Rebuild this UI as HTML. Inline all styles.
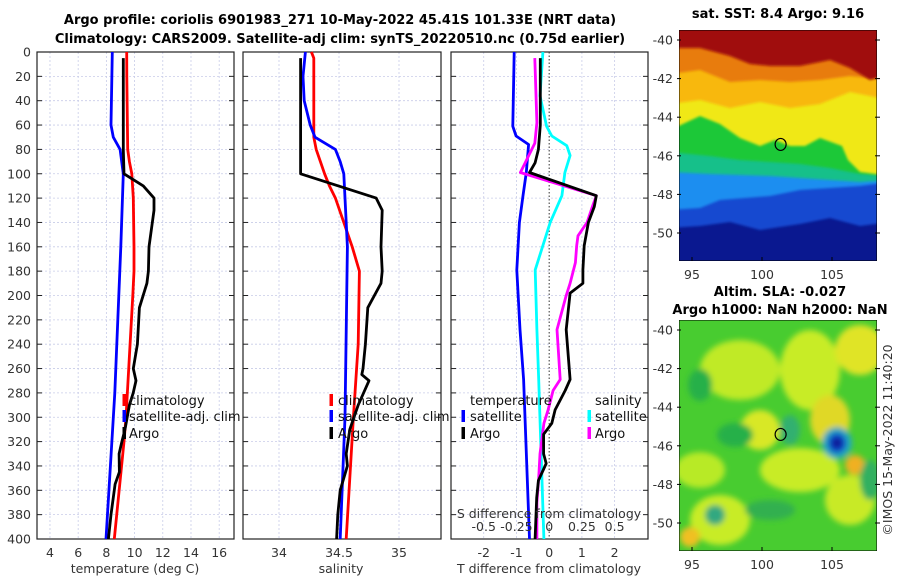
<!DOCTYPE html>
<html><head><meta charset="utf-8">
<style>
html,body{margin:0;padding:0;background:#fff;}
svg{display:block;font-family:"DejaVu Sans","Liberation Sans",sans-serif;}
.tl{font-size:12.5px;fill:#333;}
.tt{font-size:13px;font-weight:bold;fill:#000;}
.lg{font-size:13px;fill:#111;}
</style></head>
<body>
<svg id="fig" width="900" height="580" viewBox="0 0 900 580">
<defs>
<filter id="blur3"><feGaussianBlur stdDeviation="3"/></filter>
<filter id="blur1"><feGaussianBlur stdDeviation="1.2"/></filter>
<clipPath id="cm1"><rect x="679" y="30" width="198" height="231"/></clipPath>
<clipPath id="cm2"><rect x="679" y="320" width="198" height="231"/></clipPath>
</defs>
<text class="tt" x="340" y="24" text-anchor="middle">Argo profile: coriolis 6901983_271 10-May-2022 45.41S 101.33E (NRT data)</text>
<text class="tt" x="340" y="43" text-anchor="middle">Climatology: CARS2009. Satellite-adj clim: synTS_20220510.nc (0.75d earlier)</text>

<!-- SST map -->
<g clip-path="url(#cm1)">
<rect x="679" y="30" width="198" height="231" fill="#0a1890"/>
<path fill="#1548d0" filter="url(#blur1)" d="M670,20 H890 V222 L860,226 L830,218 L800,224 L760,230 L730,222 L700,226 L670,228 Z"/>
<path fill="#1e8ef0" filter="url(#blur1)" d="M670,20 H890 V182 L860,186 L830,188 L800,190 L770,196 L745,198 L720,200 L700,208 L670,210 Z"/>
<path fill="#14c08a" filter="url(#blur1)" d="M670,20 H890 V180 L860,182 L830,180 L800,178 L770,176 L740,175 L710,174 L670,172 Z"/>
<path fill="#1cc838" filter="url(#blur1)" d="M670,20 H890 V176 L860,174 L830,168 L800,164 L770,162 L740,160 L710,156 L670,152 Z"/>
<path fill="#f0e818" filter="url(#blur1)" d="M670,20 H890 V176 L860,172 L848,160 L842,146 L820,138 L805,146 L790,146 L775,140 L760,146 L740,138 L720,124 L700,116 L670,130 Z"/>
<path fill="#f8b810" filter="url(#blur1)" d="M670,20 H890 V100 L850,92 L820,104 L790,108 L760,102 L730,108 L700,100 L670,104 Z"/>
<path fill="#e87c10" filter="url(#blur1)" d="M670,20 H890 V80 L850,76 L820,80 L790,82 L760,80 L730,82 L700,70 L670,74 Z"/>
<path fill="#a00808" filter="url(#blur1)" d="M670,20 H890 V74 L870,80 L850,68 L830,60 L800,66 L770,66 L750,64 L730,56 L700,48 L670,48 Z"/>
<rect x="679" y="30" width="198" height="231" fill="none" stroke="#000" stroke-width="1"/>
</g>
<g id="map1axes"></g>
<text class="tt" x="778" y="18" text-anchor="middle">sat. SST: 8.4 Argo: 9.16</text>

<!-- SLA map -->
<g clip-path="url(#cm2)">
<rect x="679" y="320" width="198" height="231" fill="#48cc30"/>
<g filter="url(#blur3)">
<ellipse cx="740" cy="370" rx="40" ry="30" fill="#c0ea28"/>
<ellipse cx="810" cy="370" rx="30" ry="40" fill="#c8ec28"/>
<ellipse cx="860" cy="350" rx="25" ry="25" fill="#e0e428"/>
<ellipse cx="800" cy="470" rx="40" ry="22" fill="#c8ec28"/>
<ellipse cx="720" cy="520" rx="30" ry="25" fill="#c8ec28"/>
<ellipse cx="850" cy="500" rx="25" ry="25" fill="#c8ea28"/>
<ellipse cx="700" cy="470" rx="25" ry="18" fill="#b8ea28"/>
<ellipse cx="760" cy="430" rx="20" ry="20" fill="#d8e828"/>
<ellipse cx="855" cy="465" rx="10" ry="10" fill="#f0b020"/>
<ellipse cx="690" cy="537" rx="10" ry="10" fill="#f0c020"/>
<ellipse cx="830" cy="420" rx="20" ry="25" fill="#e0d828"/>
<ellipse cx="700" cy="385" rx="12" ry="16" fill="#28b048"/>
<ellipse cx="735" cy="435" rx="18" ry="12" fill="#28b048"/>
<ellipse cx="790" cy="430" rx="10" ry="15" fill="#30b070"/>
<ellipse cx="715" cy="515" rx="10" ry="10" fill="#30a880"/>
<ellipse cx="770" cy="510" rx="25" ry="10" fill="#30b050"/>
<ellipse cx="870" cy="480" rx="10" ry="20" fill="#30b060"/>
<ellipse cx="837" cy="443" rx="15" ry="16" fill="#20a8c0"/>
<ellipse cx="837" cy="443" rx="9" ry="10" fill="#1040c8"/>
<ellipse cx="837" cy="443" rx="5" ry="5" fill="#0a1890"/>
</g>
<rect x="679" y="320" width="198" height="231" fill="none" stroke="#000" stroke-width="1"/>
</g>
<g id="map2axes"></g>
<text class="tt" x="780" y="296" text-anchor="middle">Altim. SLA: -0.027</text>
<text class="tt" x="780" y="314" text-anchor="middle">Argo h1000: NaN h2000: NaN</text>
<text class="tl" transform="translate(892,440) rotate(-90)" text-anchor="middle">©IMOS 15-May-2022 11:40:20</text>

<g id="panels"></g>
</svg>
<script>
// ---- data ----
const depthTicks=[0,20,40,60,80,100,120,140,160,180,200,220,240,260,280,300,320,340,360,380,400];
const tTicks=[4,6,8,10,12,14,16];
const sTicks=[34,34.5,35];
const sTickLabels=["34","34.5","35"];
const dtTicks=[-2,-1,0,1,2];
const dsTicks=[-0.5,-0.25,0,0.25,0.5];
const dsTickLabels=["-0.5","-0.25","0","0.25","0.5"];
const lonTicks=[95,100,105];
const latTicks=[-40,-42,-44,-46,-48,-50];

const tClimDepth=[0,20,80,90,100,120,160,180,200,300,320,400];
const tClimVal=[9.44,9.45,9.51,9.63,9.8,9.91,9.96,9.96,9.87,9.39,9.25,8.56];
const tSatDepth=[0,60,70,80,100,160,280,400];
const tSatVal=[8.42,8.33,8.49,8.97,9.2,9.02,8.6,7.97];
const tArgoDepth=[5,80,100,110,120,130,160,180,190,210,240,260,270,280,290,310,320,330,345,355,380,400];
const tArgoVal=[9.2,9.2,9.25,10.62,11.38,11.38,11.02,10.98,10.87,10.34,10.2,9.91,10.1,9.9,9.63,9.32,9.1,8.9,8.92,8.62,8.33,8.14];

const sClimDepth=[0,5,70,80,100,110,120,140,160,180,240,300,400];
const sClimVal=[34.27,34.29,34.29,34.31,34.38,34.42,34.47,34.54,34.61,34.67,34.66,34.62,34.56];
const sSatDepth=[0,20,40,60,70,80,90,100,140,160,300,400];
const sSatVal=[34.22,34.2,34.21,34.26,34.3,34.47,34.51,34.54,34.56,34.57,34.55,34.51];
const sArgoDepth=[5,100,120,130,160,180,190,210,240,260,265,270,290,310,330,340,350,360,380,400];
const sArgoVal=[34.18,34.18,34.81,34.86,34.85,34.86,34.85,34.74,34.72,34.7,34.69,34.75,34.66,34.59,34.56,34.57,34.54,34.51,34.49,34.48];

const dtSatDepth=[0,61,69,76,99,118,140,179,228,269,400];
const dtSatVal=[-1.07,-1.11,-1.01,-0.63,-0.7,-0.8,-0.91,-0.99,-0.89,-0.78,-0.6];
const dtArgoDepth=[5,60,80,91,99,118,127,140,159,179,190,198,228,269,278,294,305,314,330,338,352,366,400];
const dtArgoVal=[-0.27,-0.27,-0.33,-0.43,-0.6,1.44,1.38,1.2,1.07,1.03,1.03,0.64,0.52,0.64,0.49,0.18,0.08,-0.17,-0.17,-0.09,-0.33,-0.38,-0.43];
const dsSatDepth=[0,36,61,69,77,85,99,118,140,179,228,269,400];
const dsSatVal=[-0.048,-0.07,-0.02,0.02,0.135,0.16,0.12,0.097,0.008,-0.107,-0.094,-0.08,-0.04];
const dsArgoDepth=[5,58,75,99,118,127,140,151,159,173,190,200,228,269,278,294,305,330,350,370,400];
const dsArgoVal=[-0.11,-0.094,-0.11,-0.22,0.36,0.33,0.29,0.22,0.21,0.2,0.16,0.13,0.06,0.084,0.03,-0.008,-0.04,-0.07,-0.08,-0.094,-0.094];

const argoLon=101.33, argoLat=-45.41;

// ---- drawing ----
const NS='http://www.w3.org/2000/svg';
function mk(tag,attrs,parent){const e=document.createElementNS(NS,tag);for(const k in attrs)e.setAttribute(k,attrs[k]);parent.appendChild(e);return e;}
const panels=document.getElementById('panels');
const Y0=52,Y1=539;
const yD=d=>Y0+(d/400)*(Y1-Y0);

function makePanel(name,x0,x1,dmin,dmax,gridVals,showDepthLabels){
  const g=mk('g',{},panels);
  
  
  const xs=v=>x0+(v-dmin)/(dmax-dmin)*(x1-x0);
  gridVals.forEach(v=>{const l=mk('line',{x1:xs(v),x2:xs(v),y1:Y0,y2:Y1,stroke:'#c8cce8','stroke-width':0.8,'stroke-dasharray':'2,2'},g);
    });
  depthTicks.forEach(d=>{
    const l=mk('line',{x1:x0,x2:x1,y1:yD(d),y2:yD(d),stroke:'#c8cce8','stroke-width':0.8,'stroke-dasharray':'2,2'},g);
    
    mk('line',{x1:x0,x2:x0+5,y1:yD(d),y2:yD(d),stroke:'#222','stroke-width':1},g);
    mk('line',{x1:x1-5,x2:x1,y1:yD(d),y2:yD(d),stroke:'#222','stroke-width':1},g);
    if(showDepthLabels){const t=mk('text',{x:x0-6,y:yD(d)+4.5,'text-anchor':'end',class:'tl'},g);t.textContent=d;
      }
  });
  const fr=mk('rect',{x:x0,y:Y0,width:x1-x0,height:Y1-Y0,fill:'none',stroke:'#222','stroke-width':1.2},g);
  
  return {g,xs};
}
function line(p,depths,vals,color,name){
  const pts=depths.map((d,i)=>p.xs(vals[i]).toFixed(1)+','+yD(d).toFixed(1)).join(' ');
  const l=mk('polyline',{points:pts,fill:'none',stroke:color,'stroke-width':2.8,'stroke-linejoin':'round'},p.g);
  
}
function txt(p,x,y,s,cls,anchor,name){const t=mk('text',{x:x,y:y,class:cls,'text-anchor':anchor||'start'},p.g);t.textContent=s;
  return t;}
function legendMark(p,x,y,color,name){const r=mk('rect',{x:x-1.5,y:y-11,width:3.5,height:12,fill:color},p.g);
  }

// Panel 1 temperature
const p1=makePanel('temperature-panel',37,234,3.08,17.05,tTicks,true);
line(p1,tClimDepth,tClimVal,'#ff0000','temp-climatology-line');
line(p1,tSatDepth,tSatVal,'#0000ff','temp-satellite-line');
line(p1,tArgoDepth,tArgoVal,'#000000','temp-argo-line');
tTicks.forEach(v=>txt(p1,p1.xs(v),557,String(v),'tl','middle','temp-tick-label'));
txt(p1,135,573,'temperature (deg C)','tl','middle','temp-axis-title');
[['#ff0000','climatology',405],['#0000ff','satellite-adj. clim',421],['#000000','Argo',438]].forEach(e=>{
  legendMark(p1,124,e[2],e[0],'temp-legend-marker');txt(p1,129,e[2],e[1],'lg','start','temp-legend-entry');});

// Panel 2 salinity
const p2=makePanel('salinity-panel',243,441,33.7,35.35,sTicks,false);
line(p2,sClimDepth,sClimVal,'#ff0000','sal-climatology-line');
line(p2,sSatDepth,sSatVal,'#0000ff','sal-satellite-line');
line(p2,sArgoDepth,sArgoVal,'#000000','sal-argo-line');
sTicks.forEach((v,i)=>txt(p2,p2.xs(v),557,sTickLabels[i],'tl','middle','sal-tick-label'));
txt(p2,341,573,'salinity','tl','middle','sal-axis-title');
[['#ff0000','climatology',405],['#0000ff','satellite-adj. clim',421],['#000000','Argo',438]].forEach(e=>{
  legendMark(p2,331,e[2],e[0],'sal-legend-marker');txt(p2,338,e[2],e[1],'lg','start','sal-legend-entry');});

// Panel 3 differences
const p3=makePanel('difference-panel',451,648,-3,3.02,dtTicks.filter(v=>v!==0),false);
const z=mk('line',{x1:p3.xs(0),x2:p3.xs(0),y1:Y0,y2:Y1,stroke:'#333','stroke-width':1,'stroke-dasharray':'1.5,2'},p3.g);

const sx=s=>s*4; // salinity scaled onto temperature axis
line(p3,dtSatDepth,dtSatVal,'#0000ff','dt-satellite-line');
line(p3,dsSatDepth,dsSatVal.map(sx),'#00ffff','ds-satellite-line');
line(p3,dsArgoDepth,dsArgoVal.map(sx),'#ff00ff','ds-argo-line');
line(p3,dtArgoDepth,dtArgoVal,'#000000','dt-argo-line');
dtTicks.forEach(v=>txt(p3,p3.xs(v),557,String(v),'tl','middle','dt-tick-label'));
txt(p3,549,573,'T difference from climatology','tl','middle','dt-axis-title');
dsTicks.forEach((v,i)=>txt(p3,p3.xs(sx(v)),531,dsTickLabels[i],'tl','middle','ds-tick-label'));
txt(p3,549,518,'S difference from climatology','tl','middle','ds-axis-title');
txt(p3,470,405,'temperature','lg','start','legend-temperature-header');
txt(p3,595,405,'salinity','lg','start','legend-salinity-header');
legendMark(p3,463,421,'#0000ff','legend-marker');txt(p3,470,421,'satellite','lg','start','legend-dt-satellite');
legendMark(p3,463,438,'#000000','legend-marker');txt(p3,470,438,'Argo','lg','start','legend-dt-argo');
legendMark(p3,589,421,'#00ffff','legend-marker');txt(p3,595,421,'satellite','lg','start','legend-ds-satellite');
legendMark(p3,589,438,'#ff00ff','legend-marker');txt(p3,595,438,'Argo','lg','start','legend-ds-argo');

// map axes
function mapAxes(id,top,latTopPx){
  const g=document.getElementById(id);
  
  
  const lx=lon=>692+(lon-95)*14;
  const ly=lat=>latTopPx+(-40-lat)*19.3;
  lonTicks.forEach(v=>{mk('line',{x1:lx(v),x2:lx(v),y1:top+231,y2:top+227,stroke:'#000'},g);
    const t=mk('text',{x:lx(v),y:top+249,'text-anchor':'middle',class:'tl'},g);t.textContent=v;
    });
  latTicks.forEach(v=>{mk('line',{x1:677,x2:681,y1:ly(v),y2:ly(v),stroke:'#000'},g);
    mk('line',{x1:875,x2:880,y1:ly(v),y2:ly(v),stroke:'#000'},g);
    const t=mk('text',{x:673,y:ly(v)+4.5,'text-anchor':'end',class:'tl'},g);t.textContent=v;
    });
  const c=mk('ellipse',{cx:lx(argoLon),cy:ly(argoLat),rx:5.5,ry:6,fill:'none',stroke:'#000','stroke-width':1.2},g);
  
}
mapAxes('map1axes',30,40);
mapAxes('map2axes',320,330);
</script>
</body></html>
